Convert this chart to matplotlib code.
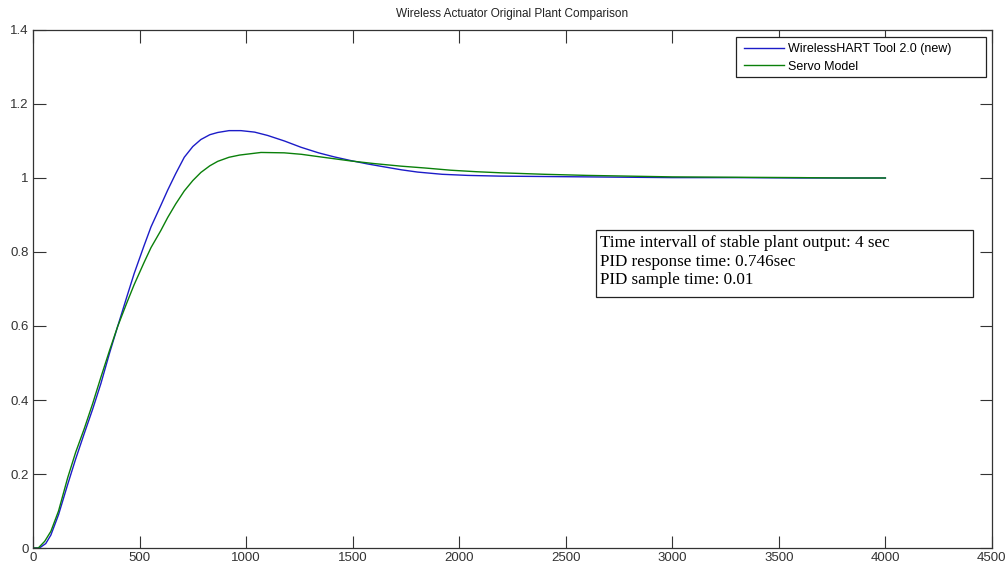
import matplotlib.pyplot as plt
from matplotlib.patches import Rectangle

# step responses (time in samples, output normalised)
t_wh = [0, 30, 60, 84, 120, 163, 200, 241, 280, 319, 360, 397, 440, 475, 520, 554, 600,
        632, 670, 710, 750, 788, 830, 867, 920, 976, 1040, 1101, 1180, 1258, 1340, 1414,
        1492, 1570, 1649, 1730, 1805, 1920, 2040, 2196, 2400, 2600, 2800, 3000, 3300,
        3600, 3800, 4000]
y_wh = [0.0, 0.0, 0.012, 0.035, 0.09, 0.172, 0.24, 0.31, 0.375, 0.445, 0.528, 0.598,
        0.678, 0.742, 0.815, 0.868, 0.926, 0.967, 1.012, 1.056, 1.085, 1.104, 1.117,
        1.123, 1.128, 1.128, 1.124, 1.115, 1.100, 1.083, 1.068, 1.057, 1.047, 1.038,
        1.030, 1.022, 1.016, 1.010, 1.007, 1.005, 1.004, 1.003, 1.002, 1.001, 1.001,
        1.0, 1.0, 1.0]

t_servo = [0, 25, 55, 84, 120, 163, 200, 241, 280, 319, 360, 397, 440, 475, 520, 554,
           600, 632, 670, 710, 750, 788, 830, 867, 920, 970, 1070, 1179, 1260, 1336,
           1414, 1492, 1600, 1727, 1840, 1961, 2080, 2196, 2400, 2600, 2800, 3000, 3300,
           3600, 3800, 4000]
y_servo = [0.0, 0.0, 0.018, 0.045, 0.1, 0.19, 0.258, 0.323, 0.39, 0.462, 0.535, 0.598,
           0.662, 0.712, 0.77, 0.812, 0.858, 0.893, 0.93, 0.965, 0.993, 1.015, 1.033,
           1.045, 1.056, 1.062, 1.069, 1.068, 1.064, 1.058, 1.052, 1.046, 1.039, 1.032,
           1.027, 1.021, 1.017, 1.014, 1.010, 1.007, 1.005, 1.003, 1.002, 1.001, 1.0,
           1.0]

info_lines = ["Time intervall of stable plant output: 4 sec",
              "PID response time: 0.746sec",
              "PID sample time: 0.01"]

plt.rcParams['font.family'] = ['Liberation Sans', 'DejaVu Sans']

fig = plt.figure(figsize=(10.05, 5.68), dpi=100)
ax = fig.add_axes([0.0328, 0.0352, 0.9542, 0.912])

ax.plot(t_wh, y_wh, color='#1c1cc8', lw=1.0, label='WirelessHART Tool 2.0 (new)')
ax.plot(t_servo, y_servo, color='#0a800a', lw=1.0, label='Servo Model')

ax.set_xlim(0, 4500)
ax.set_ylim(0, 1.4)
ax.set_xticks(range(0, 4501, 500))
ax.set_yticks([0, 0.2, 0.4, 0.6, 0.8, 1.0, 1.2, 1.4])
ax.set_yticklabels(['0', '0.2', '0.4', '0.6', '0.8', '1', '1.2', '1.4'])
ax.tick_params(direction='in', length=9, width=0.8, top=True, right=True,
               labelsize=9.5, colors='#333333', pad=3)
for s in ax.spines.values():
    s.set_color('#333333')
    s.set_linewidth(0.9)

ax.set_title('Wireless Actuator Original Plant Comparison', fontsize=8.5,
             color='#222222', pad=9)

# legend box drawn separately so it keeps the wide frame
ax.add_patch(Rectangle((0.733, 0.909), 0.9937 - 0.733, 0.9865 - 0.909,
                       transform=ax.transAxes, fc='white', ec='#222222',
                       lw=0.9, zorder=4))
leg = ax.legend(loc='upper left', bbox_to_anchor=(0.7345, 0.9865), fontsize=9,
                frameon=False, handlelength=3.2, handletextpad=0.35,
                borderpad=0.5, labelspacing=0.45, borderaxespad=0)
leg.set_zorder(5)

# info box
ax.add_patch(Rectangle((0.587, 0.4846), 0.980 - 0.587, 0.614 - 0.4846,
                       transform=ax.transAxes, fc='white', ec='#222222',
                       lw=0.9, zorder=4))
ax.text(0.5915, 0.6035, '\n'.join(info_lines), transform=ax.transAxes,
        ha='left', va='top', fontsize=12.3, family='Liberation Serif',
        linespacing=1.2, zorder=5)

fig.savefig('out.png', dpi=100)
